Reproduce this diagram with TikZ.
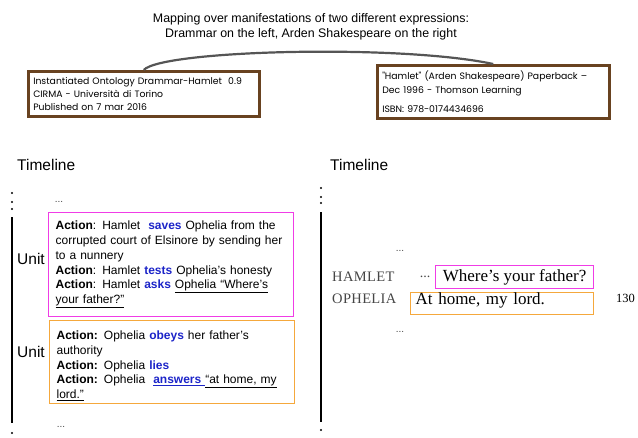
\documentclass[tikz,border=0pt]{standalone}
\usepackage{fontspec}
\setmainfont{Liberation Sans}
\newfontfamily\gothicfont{Poppins}
\newfontfamily\bookfont{Liberation Serif}
\newfontfamily\namefont[LetterSpace=2.5]{Liberation Serif}
\usepackage{xcolor}
\usetikzlibrary{positioning}

\definecolor{bookbrown}{RGB}{104,66,32}
\definecolor{unitpink}{RGB}{240,60,230}
\definecolor{unitorange}{RGB}{245,168,60}
\definecolor{verbblue}{RGB}{28,36,200}
\definecolor{arcgray}{RGB}{85,85,85}
\definecolor{namegray}{RGB}{70,70,70}

\newcommand{\act}[1]{\textcolor{verbblue}{\textbf{#1}}}

\begin{document}
\begin{tikzpicture}[x=1pt,y=-1pt,
  book/.style={draw=bookbrown,line width=2.5pt,inner xsep=5pt,inner ysep=3pt,align=left,anchor=north west,font=\gothicfont\fontsize{9.3}{12.8}\selectfont},
  unitbox/.style={draw,line width=1.2pt,inner xsep=6pt,inner ysep=3pt,text width=231pt,minimum width=245pt,align=left,anchor=north west,font=\fontsize{12}{14.7}\selectfont},
  bigtext/.style={font=\fontsize{15.5}{18}\selectfont,anchor=west,inner sep=0pt},
  dots/.style={font=\fontsize{10}{12}\selectfont,text=namegray,inner sep=0pt},
  speaker/.style={font=\namefont\fontsize{14.5}{16}\selectfont,text=namegray,anchor=west,inner sep=0pt},
  verse/.style={font=\bookfont\fontsize{17}{19}\selectfont},
  linkarc/.style={draw=arcgray,line width=2.2pt}]
  \useasboundingbox (0,0) rectangle (638,437);

  % title and the two manifestations
  \node[align=center,font=\fontsize{12.4}{15.5}\selectfont] (title) at (311,27)
    {Mapping over manifestations of two different expressions:\\Drammar on the left, Arden Shakespeare on the right};
  \node[book,text width=221pt,minimum height=45pt] (lbook) at (27,70)
    {Instantiated Ontology Drammar-Hamlet\ \ 0.9\\CIRMA - Università di Torino\\Published on 7 mar 2016};
  \node[book,text width=222pt,minimum height=53pt] (rbook) at (376,64)
    {"Hamlet" (Arden Shakespeare) Paperback –\\[1pt]Dec 1996 - Thomson Learning\\[6pt]ISBN:\ 978-0174434696};
  \draw[linkarc] (lbook.north) .. controls (162,50) and (400,44) .. (rbook.north);

  % left: drammar timeline
  \node[bigtext] (ltime) at (17,165) {Timeline};
  \foreach \y in {193,202,209,433} \fill (12,\y) circle (1.1pt);
  \draw[line width=1.6pt] (12,217) -- (12,423);
  \node[dots] (ldots1) at (59,202) {...};
  \node[unitbox,draw=unitpink,minimum height=104pt] (unit1) at (48,212)
    {\textbf{Action}: Hamlet\ \ \act{saves} Ophelia from the\\
     corrupted court of Elsinore by sending her\\
     to a nunnery\\
     \textbf{Action}: Hamlet \act{tests} Ophelia’s honesty\\
     \textbf{Action}: Hamlet \act{asks} \underline{Ophelia “Where’s}\\
     \underline{your father?”}};
  \node[unitbox,draw=unitorange,minimum height=80pt] (unit2) at (49,320)
    {\rule{0pt}{16pt}\textbf{Action:} Ophelia \act{obeys} her father’s\\
     authority\\
     \textbf{Action:} Ophelia \act{lies}\\
     \textbf{Action:} Ophelia\ \ \textcolor{verbblue}{\underline{\textbf{answers}\ }}\underline{“at home, my}\\
     \underline{lord.”}};
  \node[bigtext] (lunit1) at (17,259) {Unit};
  \node[bigtext] (lunit2) at (17,352) {Unit};
  \node[dots] (ldots2) at (61,427) {...};

  % right: arden text timeline
  \node[bigtext] (rtime) at (330,165) {Timeline};
  \foreach \y in {188,197,203,430} \fill (321,\y) circle (1.1pt);
  \draw[line width=1.6pt] (321,212) -- (321,422);
  \node[dots] (rdots1) at (400,251) {...};
  \node[speaker] (hamlet) at (332,277) {HAMLET};
  \node[dots,font=\bookfont\fontsize{14}{16}\selectfont] (rdots2) at (425,277) {...};
  \node[verse,draw=unitpink,line width=1.2pt,minimum width=158pt,minimum height=23pt,inner sep=1pt,anchor=north west] (ask) at (435,265)
    {Where’s your father?};
  \node[speaker] (ophelia) at (332,299) {OPHELIA};
  \node[verse,draw=unitorange,line width=1.2pt,text width=173pt,align=left,inner xsep=5pt,inner ysep=1pt,text height=11pt,text depth=9pt,anchor=north west] (answer) at (410,292)
    {At home, my lord.};
  \node[font=\bookfont\fontsize{12.5}{14}\selectfont,anchor=west,inner sep=0pt] (lineno) at (616,298) {130};
  \node[dots] (rdots3) at (400,332) {...};
\end{tikzpicture}
\end{document}
